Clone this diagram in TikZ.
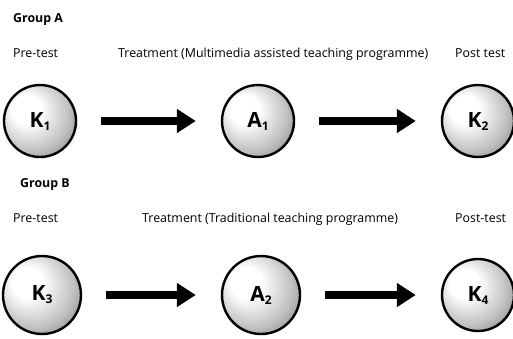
\documentclass[tikz,border=0pt]{standalone}
\usepackage{fontspec}
\setmainfont{Open Sans}
\usetikzlibrary{arrows.meta}
\pgfdeclareradialshading{knob}{\pgfpoint{-12bp}{10bp}}{%
  color(0bp)=(white); color(10bp)=(white); color(26bp)=(black!25);
  color(40bp)=(black!58); color(50bp)=(black!78)}
\newcommand{\idx}[2]{#1\raisebox{-3pt}{\fontsize{12}{12}\selectfont #2}}
\tikzset{
  stage/.style={circle, draw=black, line width=2.4pt, shading=knob,
                minimum size=72pt, inner sep=0pt,
                font=\fontsize{21}{21}\selectfont\bfseries},
  push/.style={-{Triangle[length=19pt,width=23pt]}, line width=8pt,
               shorten <=24pt, shorten >=25pt},
  caption/.style={anchor=base west, inner sep=0pt, font=\fontsize{12.4}{14}\selectfont},
  group/.style={caption, font=\fontsize{12.4}{14}\selectfont\bfseries},
}
\begin{document}
\begin{tikzpicture}[x=1pt, y=-1pt,
    big/.style={stage, minimum size=78pt},
  ]
  \useasboundingbox (0,0) rectangle (513,338);

  % group A
  \node[group] (ga) at (13,22) {Group A};
  \node[caption] (preA) at (13,57) {Pre-test};
  \node[caption] (trA) at (118,57) {Treatment (Multimedia assisted teaching programme)};
  \node[caption] (postA) at (455,57) {Post test};

  \node[stage] (k1) at (40,121) {\idx{K}{1}};
  \node[stage] (a1) at (258,121) {\idx{A}{1}};
  \node[stage] (k2) at (478,121) {\idx{K}{2}};

  \draw[push] (k1) -- (a1);
  \draw[push] (a1) -- (k2);

  % group B
  \node[group] (gb) at (20,187) {Group B};
  \node[caption] (preB) at (13,222) {Pre-test};
  \node[caption] (trB) at (142,222) {Treatment (Traditional teaching programme)};
  \node[caption] (postB) at (455,222) {Post-test};

  \node[big] (k3) at (42,295) {\idx{K}{3}};
  \node[big] (a2) at (261,295) {\idx{A}{2}};
  \node[stage] (k4) at (478,295) {\idx{K}{4}};

  \draw[push] (k3) -- (a2);
  \draw[push] (a2) -- (k4);
\end{tikzpicture}
\end{document}
